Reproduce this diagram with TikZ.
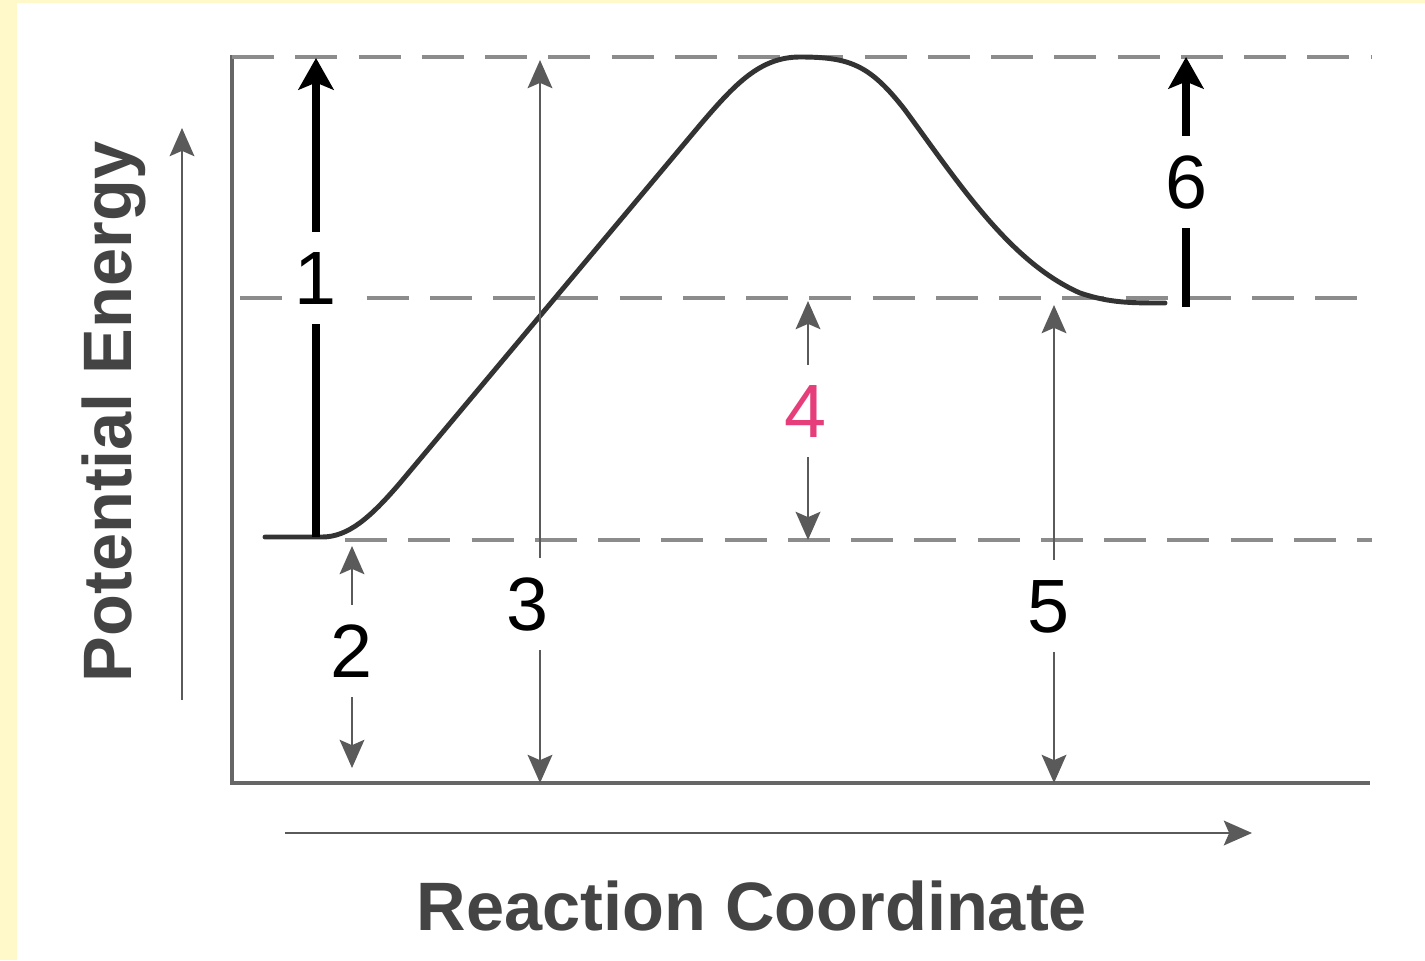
\documentclass[tikz,border=0pt]{standalone}
\usepackage{fontspec}
\setmainfont{Liberation Sans}
\usetikzlibrary{arrows.meta}
\definecolor{bgyellow}{HTML}{FFF8C8}
\definecolor{framegray}{HTML}{666666}
\definecolor{dashgray}{HTML}{8C8C8C}
\definecolor{arrgray}{HTML}{5A5A5A}
\definecolor{curvegray}{HTML}{333333}
\definecolor{pink4}{HTML}{E63E7B}
\definecolor{axtext}{HTML}{444444}
\tikzset{
  frameline/.style={draw=framegray, line width=1.8pt},
  levelline/.style={draw=dashgray, line width=2.1pt, dash pattern=on 24pt off 12pt},
  blackarrow/.style={draw=black, line width=4.3pt, -{Stealth[length=18pt,width=20pt,inset=4pt]}},
  grayarrow/.style={draw=arrgray, line width=1.6pt},
  dblgray/.style={grayarrow, {Stealth[length=16pt,width=14pt,inset=3pt]}-{Stealth[length=16pt,width=14pt,inset=3pt]}},
  singray/.style={grayarrow, -{Stealth[length=16pt,width=14pt,inset=3pt]}},
  curveline/.style={draw=curvegray, line width=2.8pt, line cap=round, line join=round},
  numlabel/.style={fill=white, font=\fontsize{43}{43}\selectfont, text height=30.5pt, text depth=0pt, inner xsep=5pt, inner ysep=11pt},
  axislabel/.style={font=\bfseries\fontsize{39}{39}\selectfont, text=axtext, inner sep=0pt},
}
\begin{document}
\begin{tikzpicture}[x=0.02cm, y=-0.02cm]
\useasboundingbox (0,0) rectangle (1425,960);
\fill[bgyellow] (0,0) rectangle (1425,960);
\fill[white] (17,3) rectangle (1425,960);

% frame
\draw[frameline] (232,55) -- (232,783) -- (1370,783);
% level lines
\draw[levelline] (232,57) -- (1372,57);
\draw[levelline] (240,298) -- (1372,298);
\draw[levelline] (345,540) -- (1372,540);

% energy curve
\draw[curveline] (265,537) -- (322,537) .. controls (348,537) and (370,518) .. (400,483)
  -- (700,125) .. controls (735,84) and (760,57) .. (800,57)
  .. controls (850,57) and (870,65) .. (905,110)
  .. controls (960,185) and (1010,262) .. (1080,293)
  .. controls (1110,303) and (1130,303) .. (1165,303);

% coordinates
\coordinate (a1b) at (316,537); \coordinate (a1t) at (316,58);
\coordinate (a2t) at (352,546); \coordinate (a2b) at (352,768);
\coordinate (a3t) at (540,60);  \coordinate (a3b) at (540,783);
\coordinate (a4t) at (808,301); \coordinate (a4b) at (808,540);
\coordinate (a5t) at (1054,305); \coordinate (a5b) at (1054,783);
\coordinate (a6b) at (1186,307); \coordinate (a6t) at (1186,57);
\coordinate (yb) at (182,700); \coordinate (yt) at (182,128);
\coordinate (xl) at (285,833); \coordinate (xr) at (1252,833);

% gray measurement arrows
\draw[dblgray] (a2t) -- (a2b);
\draw[dblgray] (a3t) -- (a3b);
\draw[dblgray] (a4t) -- (a4b);
\draw[dblgray] (a5t) -- (a5b);
% black arrows
\draw[blackarrow] (a1b) -- (a1t);
\draw[blackarrow] (a6b) -- (a6t);
% axis arrows
\draw[singray] (yb) -- (yt);
\draw[singray] (xl) -- (xr);

% labels
\node[numlabel] (l1) at (316,278) {1};
\node[numlabel] (l2) at (352,651) {2};
\node[numlabel] (l3) at (527,604) {3};
\node[numlabel, text=pink4] (l4) at (805,411) {4};
\node[numlabel] (l5) at (1048,606) {5};
\node[numlabel] (l6) at (1186,182) {6};

\node[axislabel, rotate=90] (ylab) at (114,412) {Potential Energy};
\node[axislabel] (xlab) at (752,906) {Reaction Coordinate};
\end{tikzpicture}
\end{document}
